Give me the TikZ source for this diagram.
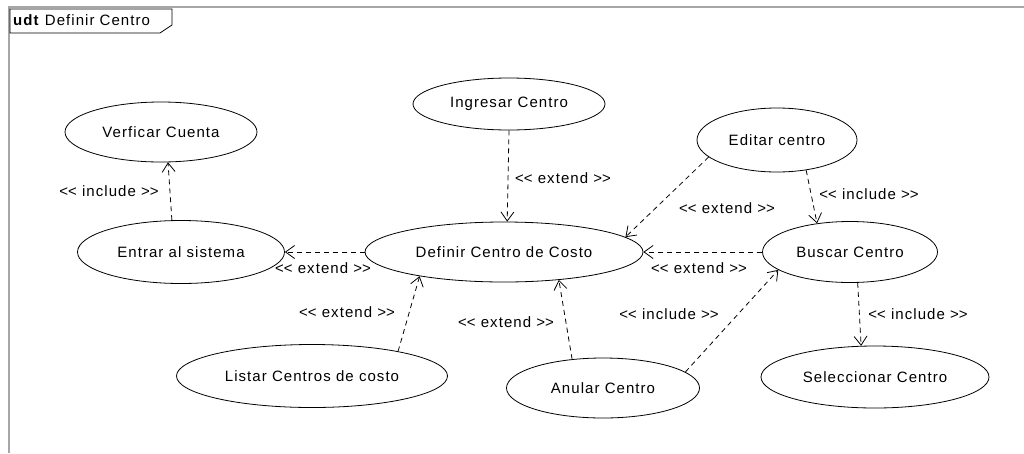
\documentclass[tikz,border=0pt]{standalone}
\usepackage{fontspec}
\setmainfont{Liberation Sans}[LetterSpace=7]
\usetikzlibrary{shapes.geometric,arrows.meta}
\newcommand{\stl}{<\kern0pt<}
\newcommand{\str}{>\kern0pt>}
\begin{document}
\begin{tikzpicture}[x=1pt,y=-1pt,
  uc/.style={draw,ellipse,line width=0.8pt,inner sep=0pt,font=\fontsize{15}{17}\selectfont},
  dep/.style={draw,line width=0.8pt,dash pattern=on 5pt off 4pt,-{Straight Barb[length=9pt,width=13pt,line width=0.8pt]}},
  lbl/.style={font=\fontsize{15}{17}\selectfont,inner sep=0pt}]
\useasboundingbox (0,0) rectangle (1024,453);
% frame
\draw[gray!70,line width=1.5pt] (9,453) -- (9,7) -- (1024,7);
\draw[line width=0.8pt,fill=white] (10,9) -- (172,9) -- (172,25) -- (160,33) -- (10,33) -- cycle;
\node[lbl,anchor=west] (title) at (13,20) {\textbf{udt} Definir Centro};
% use cases
\node[uc,minimum width=192pt,minimum height=60pt] (ver) at (161,132) {Verficar Cuenta};
\node[uc,minimum width=207pt,minimum height=63pt] (ent) at (181,252) {Entrar al sistema};
\node[uc,minimum width=192pt,minimum height=52pt] (ing) at (509,104) {Ingresar Centro};
\node[uc,minimum width=278pt,minimum height=60pt] (def) at (504,252) {Definir Centro de Costo};
\node[uc,minimum width=160pt,minimum height=64pt] (edi) at (777,140) {Editar centro};
\node[uc,minimum width=175pt,minimum height=61pt] (bus) at (850,252) {Buscar Centro};
\node[uc,minimum width=228pt,minimum height=62pt] (sel) at (875,377) {Seleccionar Centro};
\node[uc,minimum width=193pt,minimum height=60pt] (anu) at (603,388) {Anular Centro};
\node[uc,minimum width=271pt,minimum height=63pt] (lis) at (312,376) {Listar Centros de costo};
% connectors
\draw[dep] (ent.106) -- (ver.283);
\draw[dep] (def.west) -- (ent.east);
\draw[dep] (ing.south) -- (def.84);
\draw[dep] (edi.194) -- (def.7);
\draw[dep] (edi.314) -- (bus.139);
\draw[dep] (bus.west) -- (def.east);
\draw[dep] (lis.16) -- (def.196);
\draw[dep] (anu.137) -- (def.333);
\draw[dep] (anu.11) -- (bus.194);
\draw[dep] (bus.284) -- (sel.114);
% labels
\node[lbl] (l1) at (109,191) {\stl{} include \str};
\node[lbl] (l2) at (323,268) {\stl{} extend \str};
\node[lbl] (l3) at (563,178) {\stl{} extend \str};
\node[lbl] (l4) at (727,208) {\stl{} extend \str};
\node[lbl] (l5) at (869,194) {\stl{} include \str};
\node[lbl] (l6) at (699,268) {\stl{} extend \str};
\node[lbl] (l7) at (669,314) {\stl{} include \str};
\node[lbl] (l8) at (918,314) {\stl{} include \str};
\node[lbl] (l9) at (347,312) {\stl{} extend \str};
\node[lbl] (l10) at (506,322) {\stl{} extend \str};
\end{tikzpicture}
\end{document}
